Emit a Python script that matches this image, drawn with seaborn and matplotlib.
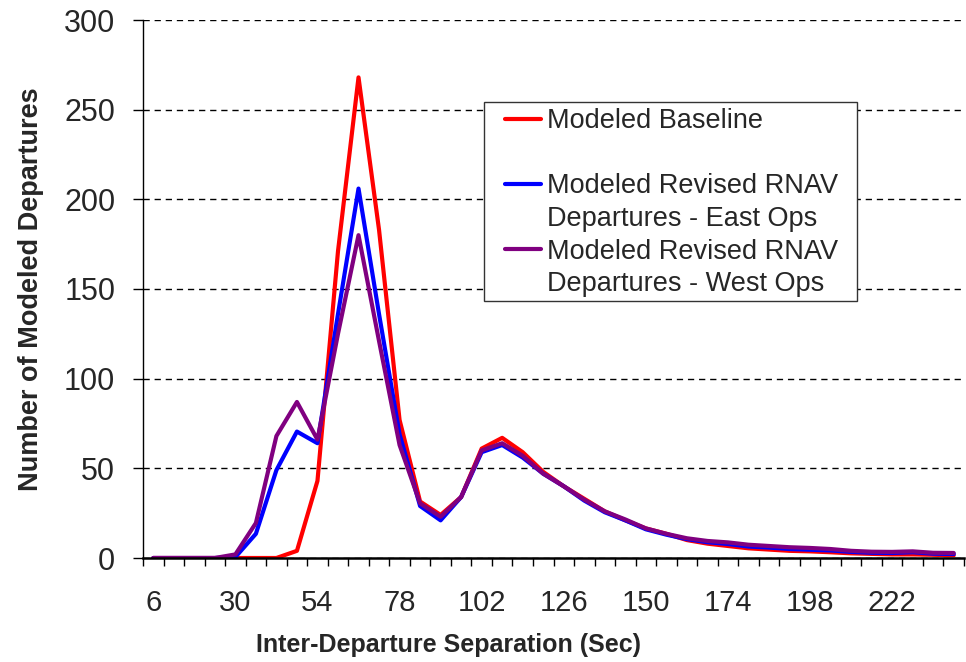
import numpy as np
import pandas as pd
import matplotlib
matplotlib.use("Agg")
import matplotlib.pyplot as plt
from matplotlib.lines import Line2D
from matplotlib.patches import Rectangle
from matplotlib.ticker import MultipleLocator, FixedLocator
import seaborn as sns

# Inter-departure separation bins (seconds)
separation = list(range(6, 241, 6))

baseline = [0, 0, 0, 0, 0, 0, 0, 4, 43, 171,
            268, 183, 77, 31.5, 24, 34, 61, 67, 59, 48,
            40, 33, 26, 21, 16.5, 13.5, 10, 8, 6.7, 5.4,
            4.7, 4, 3.7, 3.2, 2.6, 2.3, 2, 2, 1.8, 1.5]

east_ops = [0, 0, 0, 0, 0.5, 13.5, 49, 70.5, 64, 136,
            206, 136, 69, 29, 21, 34, 59, 63, 56, 47,
            40, 32, 25.5, 21, 16, 13, 10.5, 8.8, 7.8, 6.4,
            5.8, 5, 4.6, 4.2, 3.4, 2.9, 2.8, 3.2, 2.4, 2.2]

west_ops = [0, 0, 0, 0, 2, 19.5, 68, 87, 66, 125,
            180, 121, 63, 30.5, 23, 34, 60, 64, 57, 47,
            40, 32.5, 26, 21.5, 16.5, 13.5, 11, 9.5, 8.7, 7.4,
            6.7, 6, 5.6, 5, 4, 3.5, 3.4, 3.7, 2.9, 2.8]

series_names = ["Modeled Baseline",
                "Modeled Revised RNAV Departures - East Ops",
                "Modeled Revised RNAV Departures - West Ops"]
series_colors = ["#FF0000", "#0000FF", "#800080"]
x_tick_labels = [str(v) for v in range(6, 223, 24)]

df = pd.concat([
    pd.DataFrame({"sep": separation, "count": vals, "series": name})
    for name, vals in zip(series_names, [baseline, east_ops, west_ops])
], ignore_index=True)

sns.set_style("white")
plt.rcParams["font.family"] = ["Liberation Sans", "DejaVu Sans"]

W, H = 966, 662
fig = plt.figure(figsize=(W / 100, H / 100), dpi=100)
ax = fig.add_axes([143 / W, 1 - 558 / H, (964 - 143) / W, (558 - 20) / H])

sns.lineplot(data=df, x="sep", y="count", hue="series", hue_order=series_names,
             palette=series_colors, linewidth=3.0, legend=False, ax=ax,
             estimator=None, sort=False)

ax.set_xlim(3, 243)
ax.set_ylim(0, 300)

# horizontal dashed gridlines
ax.yaxis.set_major_locator(MultipleLocator(50))
ax.grid(axis="y", color="black", linestyle=(0, (4.5, 3.5)), linewidth=1.0)
ax.grid(axis="x", visible=False)
ax.set_axisbelow(True)

for side in ("top", "right"):
    ax.spines[side].set_visible(False)
ax.spines["left"].set_color("black")
ax.spines["left"].set_linewidth(1.0)
ax.spines["bottom"].set_color("black")
ax.spines["bottom"].set_linewidth(1.8)

# category ticks: labels at every 4th bin, marks on bin boundaries
ax.xaxis.set_major_locator(FixedLocator([int(v) for v in x_tick_labels]))
ax.set_xticklabels(x_tick_labels)
ax.xaxis.set_minor_locator(FixedLocator(np.arange(3, 244, 6)))
ax.tick_params(axis="x", which="major", length=0, pad=22, labelsize=21)
ax.tick_params(axis="x", which="minor", length=6, width=1.0, color="black",
               direction="out", bottom=True)
ax.tick_params(axis="y", which="major", length=7, width=1.0, color="black",
               direction="out", left=True, pad=13, labelsize=22)

ax.set_ylabel("Number of Modeled Departures", fontsize=19.5, fontweight="bold")
ax.yaxis.set_label_coords(-0.12, 0.5)
ax.set_xlabel("Inter-Departure Separation (Sec)", fontsize=18, fontweight="bold")
ax.xaxis.set_label_coords(0.3715, -0.14)
ax.xaxis.label.set_va("top")

# legend: one row per text line, handles aligned with the first line
blank = Line2D([], [], color="none")
handles = [Line2D([], [], color=series_colors[0], linewidth=3.0), blank,
           Line2D([], [], color=series_colors[1], linewidth=3.0), blank,
           Line2D([], [], color=series_colors[2], linewidth=3.0), blank]
labels = ["Modeled Baseline", " ",
          "Modeled Revised RNAV", "Departures - East Ops",
          "Modeled Revised RNAV", "Departures - West Ops"]
leg = ax.legend(handles, labels, loc="upper left",
                bbox_to_anchor=(505 / W, 1 - 108 / H), bbox_transform=fig.transFigure,
                frameon=False, borderpad=0, borderaxespad=0, fontsize=19.5,
                handlelength=1.33, handletextpad=0.22, labelspacing=0.245)
leg.set_zorder(6)
box = Rectangle((484 / W, 1 - 301 / H), (857 - 484) / W, (301 - 102) / H,
                transform=fig.transFigure, facecolor="white", edgecolor="#333333",
                linewidth=1.0, zorder=5.5, clip_on=False)
ax.add_patch(box)

fig.savefig("out.png", dpi=100)
